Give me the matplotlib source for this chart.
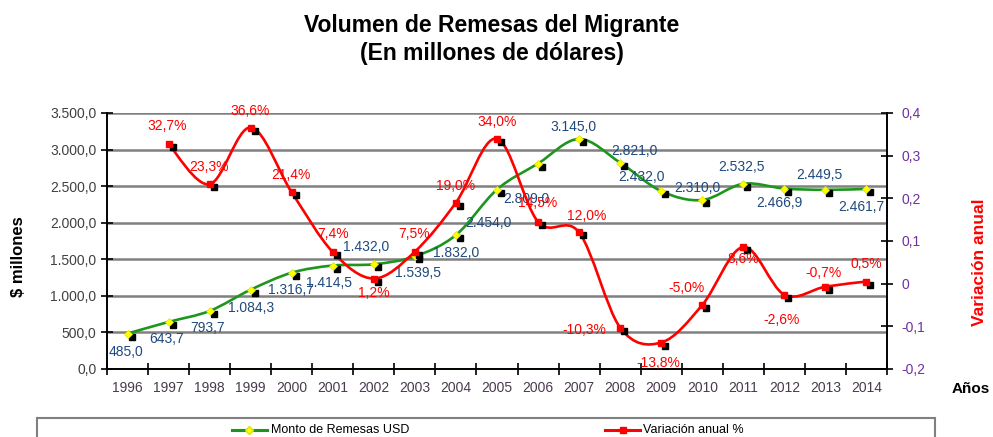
import numpy as np
import matplotlib
matplotlib.use("Agg")
import matplotlib.pyplot as plt
from matplotlib.path import Path
from matplotlib.patches import PathPatch, Rectangle
from matplotlib.lines import Line2D
import matplotlib.transforms as mtransforms

plt.rcParams['font.family'] = ['Liberation Sans', 'DejaVu Sans']

# ---------------- data ----------------
years = [str(y) for y in range(1996, 2015)]
monto = [485.0, 643.7, 793.7, 1084.3, 1316.7, 1414.5, 1432.0, 1539.5, 1832.0,
         2454.0, 2809.0, 3145.0, 2821.0, 2432.0, 2310.0, 2532.5, 2466.9, 2449.5, 2461.7]
var_years = [str(y) for y in range(1997, 2015)]
variacion = [32.7, 23.3, 36.6, 21.4, 7.4, 1.2, 7.5, 19.0, 34.0, 14.5, 12.0,
             -10.3, -13.8, -5.0, 8.6, -2.6, -0.7, 0.5]
left_ticks = [0, 500, 1000, 1500, 2000, 2500, 3000, 3500]
right_ticks = [-0.2, -0.1, 0, 0.1, 0.2, 0.3, 0.4]
right_labels = ['-0,2', '-0,1', '0', '0,1', '0,2', '0,3', '0,4']

# label offsets (pixels)
green_off = [(-2, -18), (-2, -17), (-2, -17), (0, -18), (-1, -17), (-4, -17), (-8, 17),
             (3, -17), (0, -18), (-9, -33), (-12, -35), (-6, 12), (14, 12), (-20, 14),
             (-5, 12), (-2, 17), (-5, -14), (-6, 15), (-5, -18)]
red_off = [(-1, 18), (-1, 17), (-1, 17), (-1, 17), (0, 18), (0, -14), (-1, 18), (0, 17),
           (0, 17), (0, 19), (8, 16), (-36, -2), (-3, -20), (-16, 17), (0, -12), (-3, -25),
           (-2, 14), (0, 18)]

GREEN = '#1e961e'
RED = '#ff0000'
BLUE = '#1f497d'
PURPLE = '#7030a0'
GRID = '#808080'

W, H = 993, 437
def fx(px): return px / W
def fy(py): return 1 - py / H

def fmt_es(v):
    s = f"{v:,.1f}"
    return s.replace(',', 'X').replace('.', ',').replace('X', '.')

def fmt_pct(v):
    return f"{v:.1f}%".replace('.', ',')

def smooth_path(xs, ys):
    pts = np.column_stack([xs, ys]).astype(float)
    n = len(pts)
    verts = [pts[0]]
    codes = [Path.MOVETO]
    for i in range(n - 1):
        p0 = pts[i - 1] if i > 0 else pts[i]
        p1 = pts[i]
        p2 = pts[i + 1]
        p3 = pts[i + 2] if i + 2 < n else pts[i + 1]
        c1 = p1 + (p2 - p0) / 6.0
        c2 = p2 - (p3 - p1) / 6.0
        verts += [c1, c2, p2]
        codes += [Path.CURVE4] * 3
    return Path(verts, codes)

fig = plt.figure(figsize=(W / 100, H / 100), dpi=100)
ax = fig.add_axes([fx(107), fy(369), (887 - 107) / W, 256 / H])
ax2 = ax.twinx()

x = np.arange(len(years))
xr = np.array([years.index(y) for y in var_years])
vr = np.array(variacion) / 100.0

ax.set_xlim(-0.5, len(years) - 0.5)
ax.set_ylim(0, 3500)
ax2.set_ylim(-0.2, 0.4)

# grid
ax.set_yticks(left_ticks)
ax.set_yticklabels([fmt_es(v) for v in left_ticks])
ax.yaxis.grid(True, color=GRID, lw=1.8)
ax.set_axisbelow(True)
ax2.set_yticks(right_ticks)
ax2.set_yticklabels(right_labels)

# x ticks
ax.set_xticks(np.arange(-0.5, len(years), 1.0))
ax.set_xticklabels([])
ax.set_xticks(x, minor=True)
ax.set_xticklabels(years, minor=True)
ax.tick_params(axis='x', which='major', direction='inout', length=9, width=1.2, color='black')
ax.tick_params(axis='x', which='minor', length=0, pad=9, labelsize=10, labelcolor='#4a3a4e')
ax.tick_params(axis='y', direction='inout', length=9, width=1.2, labelsize=10,
               labelcolor='#404040', pad=3)
ax2.tick_params(axis='y', direction='inout', length=9, width=1.2, labelsize=10,
                labelcolor=PURPLE, pad=6)

for a in (ax, ax2):
    a.spines['top'].set_visible(False)
    for s in ('left', 'right', 'bottom'):
        a.spines[s].set_linewidth(1.2)
        a.spines[s].set_color('black')

shadow1 = ax.transData + mtransforms.ScaledTranslation(4 / 100, -3 / 100, fig.dpi_scale_trans)
shadow2 = ax2.transData + mtransforms.ScaledTranslation(4 / 100, -3 / 100, fig.dpi_scale_trans)

# green series
ax.add_patch(PathPatch(smooth_path(x, monto), facecolor='none', edgecolor=GREEN, lw=1.9, zorder=3))
ax.plot(x, monto, ls='none', marker='s', ms=3.8, color='black', transform=shadow1, zorder=4)
ax.plot(x, monto, ls='none', marker='D', ms=3.8, mfc='#ffff00', mec='#e0e000', mew=0.5, zorder=5)
for xi, v, off in zip(x, monto, green_off):
    ax.annotate(fmt_es(v), (xi, v), xytext=off, textcoords='offset pixels', ha='center',
                va='center', fontsize=10, color=BLUE, zorder=6)

# red series
ax2.add_patch(PathPatch(smooth_path(xr, vr), facecolor='none', edgecolor=RED, lw=1.9, zorder=3))
ax2.plot(xr, vr, ls='none', marker='s', ms=3.8, color='black', transform=shadow2, zorder=4)
ax2.plot(xr, vr, ls='none', marker='s', ms=4.2, color=RED, zorder=5)
for xi, v, off in zip(xr, variacion, red_off):
    ax2.annotate(fmt_pct(v), (xi, v / 100.0), xytext=off, textcoords='offset pixels',
                 ha='center', va='center', fontsize=10, color=RED, zorder=6)

# titles & axis labels
fig.text(fx(492), fy(32), 'Volumen de Remesas del Migrante', ha='center', va='baseline',
         fontsize=16.5, fontweight='bold')
fig.text(fx(492), fy(60), '(En millones de dólares)', ha='center', va='baseline',
         fontsize=16.5, fontweight='bold')
fig.text(fx(19), fy(257), '$ millones', rotation=90, ha='center', va='center',
         fontsize=12, fontweight='bold')
fig.text(fx(980), fy(262), 'Variación anual', rotation=90, ha='center', va='center',
         fontsize=12.5, fontweight='bold', color=RED)
fig.text(fx(971), fy(389), 'Años', ha='center', va='center', fontsize=11, fontweight='bold')

# legend box
fig.add_artist(Rectangle((fx(37), -0.1), fx(935) - fx(37), fy(418) + 0.1,
                         transform=fig.transFigure, facecolor='white', edgecolor=GRID, lw=1.5))
fig.add_artist(Line2D([fx(232), fx(267)], [fy(430), fy(430)], transform=fig.transFigure,
                      color=GREEN, lw=2.2))
fig.add_artist(Line2D([fx(249.5)], [fy(430)], transform=fig.transFigure, ls='none',
                      marker='D', ms=3.8, mfc='#ffff00', mec='#e0e000'))
fig.text(fx(271), fy(430), 'Monto de Remesas USD', ha='left', va='center', fontsize=9)
fig.add_artist(Line2D([fx(605), fx(640)], [fy(430), fy(430)], transform=fig.transFigure,
                      color=RED, lw=2.2))
fig.add_artist(Line2D([fx(622.5)], [fy(430)], transform=fig.transFigure, ls='none',
                      marker='s', ms=4.2, color=RED))
fig.text(fx(643), fy(430), 'Variación anual %', ha='left', va='center', fontsize=9)

fig.savefig('out.png', dpi=100)
